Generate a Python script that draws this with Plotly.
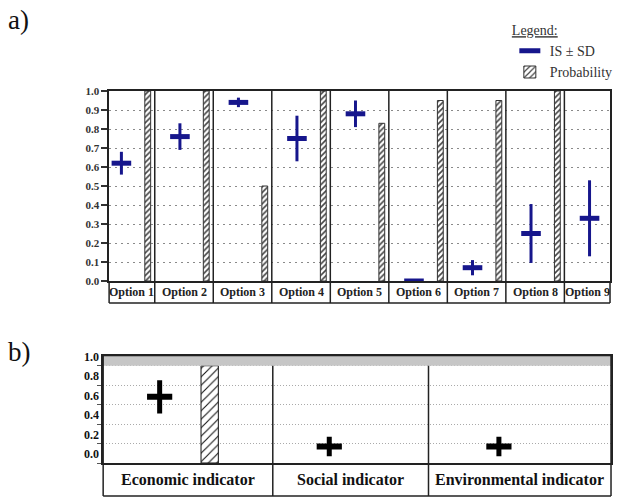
import plotly.graph_objects as go

# ---------------- data ----------------
options = ["Option 1", "Option 2", "Option 3", "Option 4", "Option 5",
           "Option 6", "Option 7", "Option 8", "Option 9"]
is_mean_a = [0.62, 0.76, 0.94, 0.75, 0.88, 0.00, 0.07, 0.25, 0.33]
is_sd_a = [0.06, 0.07, 0.025, 0.12, 0.07, 0.0, 0.04, 0.155, 0.20]
prob_a = [1.0, 1.0, 0.5, 1.0, 0.83, 0.95, 0.95, 1.0, None]
y_ticks_a = ["0.0", "0.1", "0.2", "0.3", "0.4", "0.5", "0.6", "0.7", "0.8", "0.9", "1.0"]
y_tickvals_a = [0.0, 0.1, 0.2, 0.3, 0.4, 0.5, 0.6, 0.7, 0.8, 0.9, 1.0]

indicators = ["Economic indicator", "Social indicator", "Environmental indicator"]
is_mean_b = [0.68, 0.17, 0.17]
is_sd_b = [0.17, 0.10, 0.10]
prob_b = [1.0, None, None]
y_ticks_b = ["0.0", "0.2", "0.4", "0.6", "0.8", "1.0"]
y_tickvals_b = [0.0, 0.2, 0.4, 0.6, 0.8, 1.0]

# ---------------- layout constants ----------------
W, H = 618, 497
FONT = "Liberation Serif"
NAVY = "#16168c"
INK = "#222222"

def fx(px):
    return px / W

def fy(px):
    return 1 - px / H

# panel a geometry (data units)
xa_lo, xa_hi = -0.28, 8.28
is_off_a, bar_off_a, bar_w_a = -0.07, 0.38, 0.10
label_row_a = -0.116  # in y-domain units

# panel b geometry
xb_lo, xb_hi = -0.333, 2.661
bounds_b_inner = [0.667, 1.585]
bar_off_b, bar_w_b = 0.295, 0.102
label_row_b = -0.308

fig = go.Figure()

# ---- panel a traces ----
idx_a = list(range(len(options)))
fig.add_trace(go.Bar(
    x=[i + bar_off_a for i in idx_a], y=prob_a, width=bar_w_a,
    marker=dict(color="white",
                pattern=dict(shape="/", fgcolor="#444", bgcolor="white", size=4, solidity=0.4),
                line=dict(color="#333", width=1)),
    showlegend=False, xaxis="x", yaxis="y", hoverinfo="skip"))
fig.add_trace(go.Scatter(
    x=[i + is_off_a for i in idx_a], y=is_mean_a, mode="markers",
    marker=dict(symbol="line-ew", size=14, color=NAVY, line=dict(color=NAVY, width=5)),
    error_y=dict(type="data", array=is_sd_a, color=NAVY, thickness=3, width=0),
    showlegend=False, xaxis="x", yaxis="y"))

# legend-only traces
fig.add_trace(go.Scatter(
    x=[None], y=[None], mode="markers", name="IS \u00b1 SD",
    marker=dict(symbol="line-ew", size=15, color=NAVY, line=dict(color=NAVY, width=5)),
    xaxis="x", yaxis="y"))
fig.add_trace(go.Bar(
    x=[None], y=[None], name="Probability",
    marker=dict(color="white",
                pattern=dict(shape="/", fgcolor="#444", bgcolor="white", size=5, solidity=0.3),
                line=dict(color="#333", width=1)),
    xaxis="x", yaxis="y"))

# ---- panel b traces ----
idx_b = list(range(len(indicators)))
fig.add_trace(go.Bar(
    x=[i + bar_off_b for i in idx_b], y=prob_b, width=bar_w_b,
    marker=dict(color="white",
                pattern=dict(shape="/", fgcolor="#111", bgcolor="white", size=6, solidity=0.18),
                line=dict(color="#111", width=1)),
    showlegend=False, xaxis="x2", yaxis="y2", hoverinfo="skip"))
fig.add_trace(go.Scatter(
    x=idx_b, y=is_mean_b, mode="markers",
    marker=dict(symbol="line-ew", size=18, color="black", line=dict(color="black", width=6)),
    error_y=dict(type="data", array=is_sd_b, color="black", thickness=5, width=0),
    showlegend=False, xaxis="x2", yaxis="y2"))

# ---- shapes ----
shapes = []
line_style = dict(color=INK, width=1.5)
# panel a separators through the label row
for i in range(len(options) - 1):
    shapes.append(dict(type="line", xref="x", yref="y domain", x0=i + 0.5, x1=i + 0.5,
                       y0=label_row_a, y1=1, line=line_style, layer="above"))
for xd in (0, 1):
    shapes.append(dict(type="line", xref="x domain", yref="y domain", x0=xd, x1=xd,
                       y0=label_row_a, y1=0, line=line_style, layer="above"))
shapes.append(dict(type="line", xref="x domain", yref="y domain", x0=0, x1=1,
                   y0=label_row_a, y1=label_row_a, line=line_style, layer="above"))

# panel b grey band
shapes.append(dict(type="rect", xref="x2 domain", yref="y2", x0=0, x1=1, y0=1.0, y1=1.1,
                   fillcolor="#c6c6c6", line=dict(width=0), layer="above"))
shapes.append(dict(type="line", xref="x2 domain", yref="y2", x0=0, x1=1, y0=1.1, y1=1.1,
                   line=dict(color="#8a8a8a", width=1.5), layer="above"))
for xb in bounds_b_inner:
    shapes.append(dict(type="line", xref="x2", yref="y2 domain", x0=xb, x1=xb,
                       y0=label_row_b, y1=1.0 / 1.1, line=line_style, layer="above"))
for xd in (0, 1):
    shapes.append(dict(type="line", xref="x2 domain", yref="y2 domain", x0=xd, x1=xd,
                       y0=label_row_b, y1=1, line=line_style, layer="above"))
shapes.append(dict(type="line", xref="x2 domain", yref="y2 domain", x0=0, x1=1,
                   y0=label_row_b, y1=label_row_b, line=line_style, layer="above"))

# ---- annotations ----
annotations = []
bounds_a = [xa_lo] + [i + 0.5 for i in range(len(options) - 1)] + [xa_hi]
for k, name in enumerate(options):
    cx = (bounds_a[k] + bounds_a[k + 1]) / 2
    annotations.append(dict(x=cx, y=label_row_a / 2, xref="x", yref="y domain",
                            text=name, showarrow=False, xanchor="center", yanchor="middle",
                            font=dict(family=FONT, size=12, color=INK, weight="bold")))
bounds_b = [xb_lo] + bounds_b_inner + [xb_hi]
for k, name in enumerate(indicators):
    cx = (bounds_b[k] + bounds_b[k + 1]) / 2
    annotations.append(dict(x=cx, y=label_row_b / 2, xref="x2", yref="y2 domain",
                            text=name, showarrow=False, xanchor="center", yanchor="middle",
                            font=dict(family=FONT, size=16, color="#111", weight="bold")))
annotations.append(dict(x=fx(6), y=fy(20), xref="paper", yref="paper", text="a)",
                        showarrow=False, xanchor="left", yanchor="middle",
                        font=dict(family=FONT, size=27, color="#111")))
annotations.append(dict(x=fx(6), y=fy(352), xref="paper", yref="paper", text="b)",
                        showarrow=False, xanchor="left", yanchor="middle",
                        font=dict(family=FONT, size=27, color="#111")))

axis_common = dict(showline=True, mirror=True, linecolor=INK, linewidth=1.5, zeroline=False)

fig.update_layout(
    template="none",
    width=W, height=H,
    margin=dict(l=0, r=0, t=0, b=0),
    paper_bgcolor="white", plot_bgcolor="white",
    barmode="overlay",
    xaxis=dict(domain=[fx(110), fx(615)], range=[xa_lo, xa_hi], showgrid=False,
               showticklabels=False, ticks="", anchor="y", **axis_common),
    yaxis=dict(domain=[fy(281), fy(91)], range=[0, 1.0], tickvals=y_tickvals_a,
               ticktext=y_ticks_a, ticks="outside", ticklen=6, tickwidth=1.5, tickcolor="#333",
               showgrid=True, gridcolor="#8a8a8a", griddash="2px,4px", gridwidth=1.2, anchor="x",
               tickfont=dict(family=FONT, size=11, color="#333", weight="bold"), **axis_common),
    xaxis2=dict(domain=[fx(104), fx(616)], range=[xb_lo, xb_hi], showgrid=False,
                showticklabels=False, ticks="", anchor="y2", **axis_common),
    yaxis2=dict(domain=[fy(463), fy(356)], range=[0, 1.1], tickvals=y_tickvals_b,
                ticktext=y_ticks_b, ticks="outside", ticklen=4, tickwidth=1, tickcolor="#555",
                ticklabelposition="outside top",
                showgrid=True, gridcolor="#aaaaaa", griddash="1px,2px", gridwidth=1, anchor="x2",
                tickfont=dict(family=FONT, size=12, color="#111", weight="bold"), **axis_common),
    legend=dict(x=fx(514), y=fy(17), xanchor="left", yanchor="top",
                bgcolor="rgba(0,0,0,0)", borderwidth=0, tracegroupgap=0,
                font=dict(family=FONT, size=14, color="#333"),
                title=dict(text="<u>Legend:</u>", side="top",
                           font=dict(family=FONT, size=14, color="#333"))),
    shapes=shapes,
    annotations=annotations,
    showlegend=True,
)

fig.write_html(
    "out.html",
    config={"displayModeBar": False},
    post_script="document.body.style.margin='0';document.body.style.overflow='hidden';",
)
